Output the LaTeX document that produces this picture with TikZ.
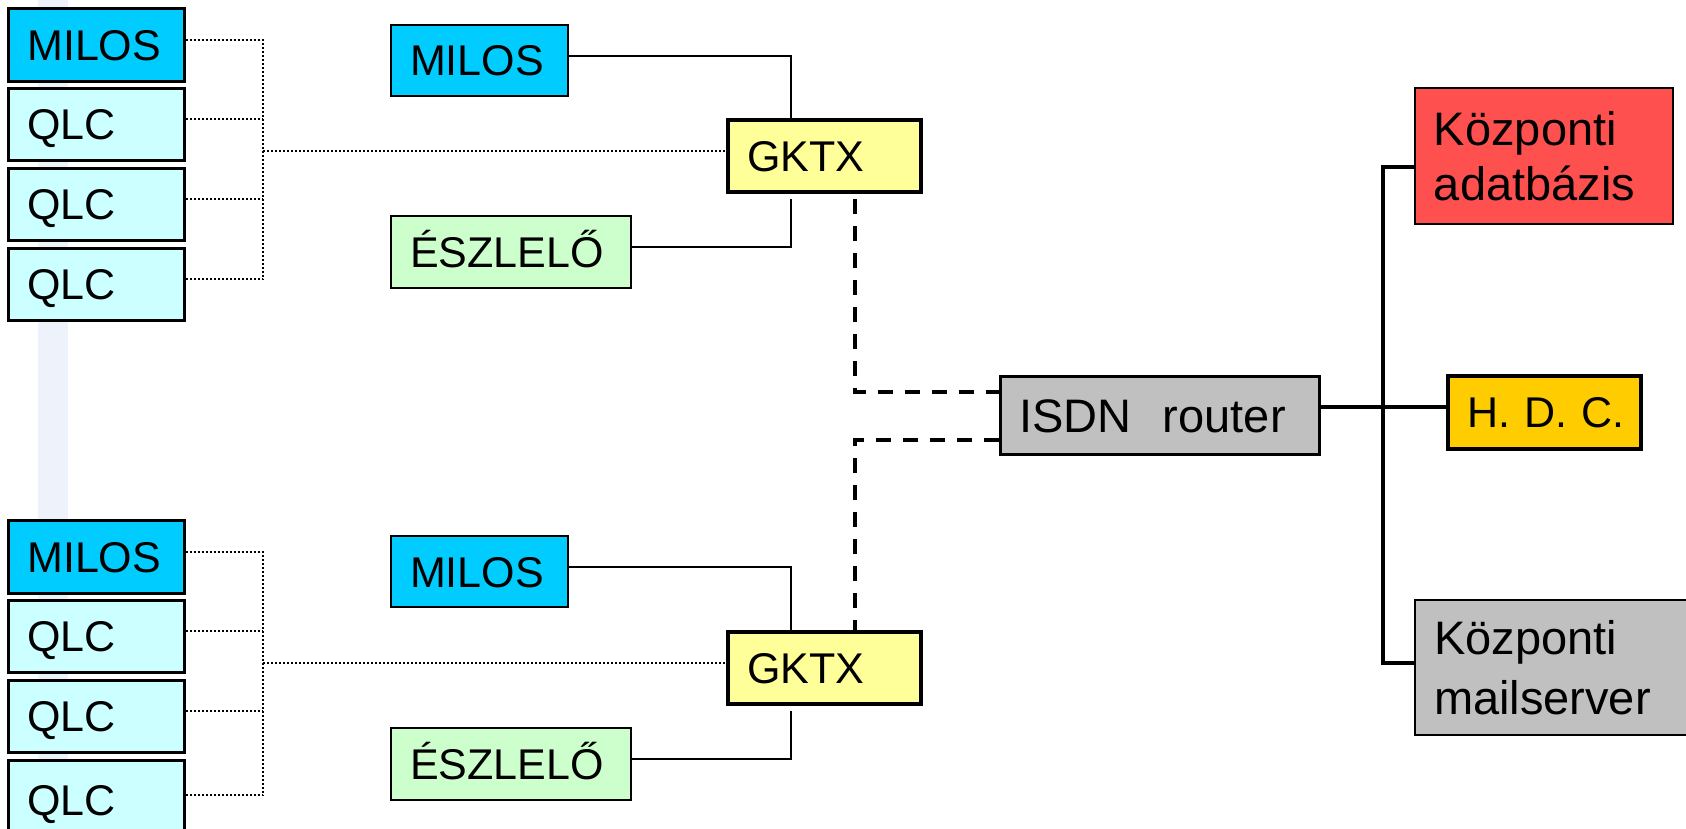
\documentclass[tikz,border=0pt]{standalone}
\usepackage{fontspec}
\setmainfont{Liberation Sans}
\definecolor{milos}{HTML}{00CCFF}
\definecolor{qlc}{HTML}{CCFFFF}
\definecolor{gktx}{HTML}{FFFF99}
\definecolor{eszl}{HTML}{CCFFCC}
\definecolor{grayb}{HTML}{C0C0C0}
\definecolor{dbred}{HTML}{FF5050}
\definecolor{hdc}{HTML}{FFCC00}
\definecolor{stripe}{HTML}{EEF2FA}
\begin{document}
\begin{tikzpicture}[x=0.5pt,y=-0.5pt,
  box/.style={draw=black, line width=1.3pt, anchor=north west, inner xsep=9.5pt, inner ysep=0pt, align=left},
  fs/.style={font=\fontsize{21.5}{25}\selectfont, text height=15.4pt, text depth=0pt},
  fsbig/.style={font=\fontsize{23.5}{28}\selectfont, text height=16.8pt, text depth=0pt},
  leftbox/.style={box, fs, text width=69pt, minimum height=36pt},
  midbox/.style={box, fs, line width=1.1pt, minimum height=35.5pt},
  gkbox/.style={box, fs, line width=2pt, fill=gktx, text width=77.5pt, minimum height=36pt},
  dotline/.style={line width=1pt, dash pattern=on 1pt off 1pt},
  thinline/.style={line width=0.9pt},
  dashline/.style={line width=2pt, dash pattern=on 7.5pt off 6pt},
  thickline/.style={line width=1.8pt}]
\useasboundingbox (0,0) rectangle (1686,829);
\clip (0,0) rectangle (1686,829);
\fill[stripe] (38,0) rectangle (68,829);

% upper left column
\node[leftbox, fill=milos, minimum height=36.5pt] (L1m) at (7,7) {MILOS};
\node[leftbox, fill=qlc] (L1a) at (7,87) {QLC};
\node[leftbox, fill=qlc] (L1b) at (7,167) {QLC};
\node[leftbox, fill=qlc] (L1c) at (7,247) {QLC};
% lower left column
\node[leftbox, fill=milos, minimum height=36.5pt] (L2m) at (7,519) {MILOS};
\node[leftbox, fill=qlc] (L2a) at (7,599) {QLC};
\node[leftbox, fill=qlc] (L2b) at (7,679) {QLC};
\node[leftbox, fill=qlc, minimum height=40pt] (L2c) at (7,759) {QLC};

% middle
\node[midbox, fill=milos, text width=69.5pt] (M1) at (390,24) {MILOS};
\node[gkbox] (G1) at (726,118) {GKTX};
\node[midbox, fill=eszl, text width=101pt, minimum height=36pt] (E1) at (390,215) {ÉSZLELŐ};
\node[midbox, fill=milos, text width=69.5pt] (M2) at (390,535) {MILOS};
\node[gkbox] (G2) at (726,630) {GKTX};
\node[midbox, fill=eszl, text width=101pt, minimum height=36pt] (E2) at (390,727) {ÉSZLELŐ};

% router and right side
\node[box, fsbig, fill=grayb, text width=140.5pt, minimum height=39pt] (R) at (999,375) {ISDN~~router};
\node[box, line width=0.9pt, fill=dbred, text width=110pt, minimum height=68pt,
  font=\fontsize{23.5}{27.5}\selectfont] (DB) at (1414,87) {Központi\\adatbázis};
\node[box, fs, line width=2pt, fill=hdc, text width=77.5pt, minimum height=36.5pt] (H) at (1446,374) {\mbox{H. D. C.}};
\node[box, line width=1pt, fill=grayb, text width=126pt, minimum height=67.5pt,
  font=\fontsize{23.5}{30}\selectfont] (MS) at (1414,599) {Központi\\mailserver};

% coordinates
\coordinate (d1) at (263,0);
\coordinate (d1h) at (263,151);
\coordinate (d2h) at (263,663);
\coordinate (sx) at (791,0);
\coordinate (g1b) at (791,199);
\coordinate (g2b) at (791,711);
\coordinate (dx) at (855,0);
\coordinate (g1d) at (855,199);
\coordinate (busTop) at (1383,167);
\coordinate (busBot) at (1383,663);
\coordinate (rl) at (0,407);

% dotted bundles (upper)
\draw[dotline] ([yshift=2.3pt]L1m.east) -| ([yshift=2.5pt]L1c.east -| d1) -- ([yshift=2.5pt]L1c.east);
\draw[dotline] ([yshift=2.5pt]L1a.east) -- ([yshift=2.5pt]L1a.east -| d1);
\draw[dotline] ([yshift=2.5pt]L1b.east) -- ([yshift=2.5pt]L1b.east -| d1);
\draw[dotline] (d1h) -- (d1h -| G1.west);
% dotted bundles (lower)
\draw[dotline] ([yshift=2.3pt]L2m.east) -| ([yshift=2.5pt]L2c.east -| d1) -- ([yshift=2.5pt]L2c.east);
\draw[dotline] ([yshift=2.5pt]L2a.east) -- ([yshift=2.5pt]L2a.east -| d1);
\draw[dotline] ([yshift=2.5pt]L2b.east) -- ([yshift=2.5pt]L2b.east -| d1);
\draw[dotline] (d2h) -- (d2h -| G2.west);

% thin solid lines
\draw[thinline] ([yshift=2.25pt]M1.east) -| (G1.north -| sx);
\draw[thinline] ([yshift=2.5pt]E1.east) -| (g1b);
\draw[thinline] ([yshift=2.25pt]M2.east) -| (G2.north -| sx);
\draw[thinline] ([yshift=2.5pt]E2.east) -| (g2b);

% dashed ISDN links
\draw[dashline] (g1d) |- ([yshift=11.5pt]R.west);
\draw[dashline] ([yshift=-12.5pt]R.west) -| (G2.north -| dx);

% right side
\draw[thickline] (R.east |- rl) -- (H.west |- rl);
\draw[thickline] (DB.west |- busTop) -- (busTop) -- (busBot) -- (MS.west |- busBot);
\end{tikzpicture}
\end{document}
